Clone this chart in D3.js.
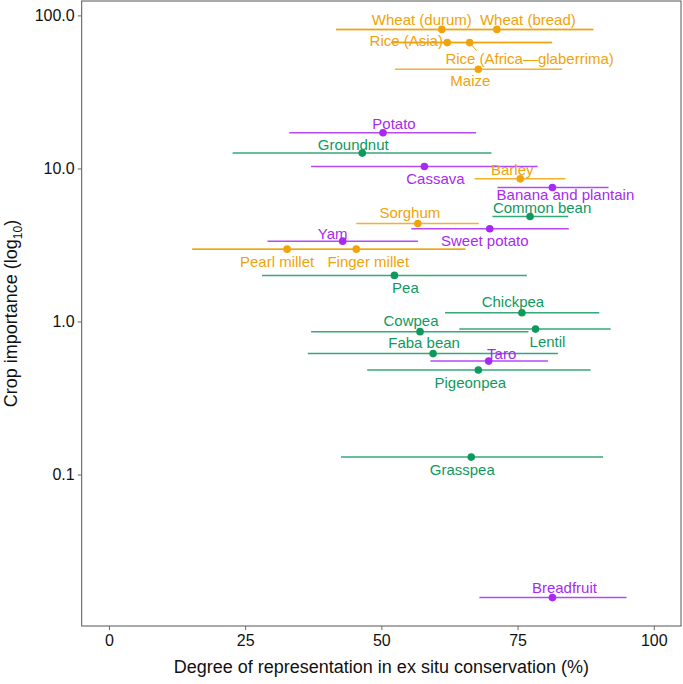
<!DOCTYPE html>
<html><head><meta charset="utf-8">
<script src="https://cdn.jsdelivr.net/npm/d3@7"></script>
<style>body{margin:0;background:#fff}svg{display:block}text{font-family:"Liberation Sans",Arial,sans-serif}</style>
</head><body>
<script>
// ---- data ----
const crops = ["Wheat (durum)","Wheat (bread)","Rice (Asia)","Rice (Africa\u2014glaberrima)","Maize","Potato","Groundnut","Cassava","Barley","Banana and plantain","Common bean","Sorghum","Sweet potato","Yam","Pearl millet","Finger millet","Pea","Chickpea","Cowpea","Lentil","Faba bean","Taro","Pigeonpea","Grasspea","Breadfruit"];
const groups = ["cereal","cereal","cereal","cereal","cereal","root","legume","root","cereal","root","legume","cereal","root","root","cereal","cereal","legume","legume","legume","legume","legume","root","legume","legume","root"];
const importance = [81,81,66.4,66.4,44.5,17.1,12.6,10.3,8.55,7.5,4.85,4.37,4.04,3.35,2.97,2.97,2.0,1.14,0.858,0.892,0.617,0.551,0.482,0.130,0.0157];
const representation = [61.1,71.2,62.1,66.2,67.8,50.3,46.5,57.9,75.5,81.4,77.3,56.7,69.9,42.9,32.7,45.4,52.4,75.8,57.1,78.3,59.5,69.7,67.8,66.5,81.4];
const lower = [41.7,41.7,51.8,51.8,52.5,33.1,22.7,37.1,67.1,71.3,70.4,45.4,55.5,29.1,15.3,15.3,28.1,61.7,37.1,64.3,36.5,59.0,47.4,42.6,68.0];
const upper = [88.9,88.9,81.3,81.3,83.2,67.4,70.2,78.7,83.8,91.7,84.3,67.9,84.4,56.7,65.4,65.4,76.7,90.0,77.0,92.1,82.4,80.6,88.4,90.7,95.0];
const yTicks = [0.1,1,10,100];
const yTickLabels = ["0.1","1.0","10.0","100.0"];
const xTicks = [0,25,50,75,100];

// label placement (repelled offsets from point, px)
const labelOffset = {
 "Wheat (durum)":[-20,-10],"Wheat (bread)":[31,-10],"Rice (Asia)":[-41,-2],"Rice (Africa\u2014glaberrima)":[60,16],
 "Maize":[-8,11.5],"Potato":[11,-9],"Groundnut":[-9,-9],"Cassava":[11,12],"Barley":[-8,-9],
 "Banana and plantain":[13,7],"Common bean":[12,-9],"Sorghum":[-8,-11],"Sweet potato":[-5,12],"Yam":[-10,-8],
 "Pearl millet":[-10,12.5],"Finger millet":[12,12.5],"Pea":[11,12],"Chickpea":[-9,-11.5],"Cowpea":[-9,-11],
 "Lentil":[12,12],"Faba bean":[-9,-11],"Taro":[13,-8],"Pigeonpea":[-8,12.5],"Grasspea":[-9,12.5],"Breadfruit":[12,-10]
};
const colors = {cereal:"#F0A30A", legume:"#10995E", root:"#A82AF2"};

const W=683,H=684;
const svg=d3.select("body").append("svg").attr("width",W).attr("height",H);
const L=81.7,R=681,T=1,B=626;
const x=d3.scaleLinear().domain([-5,105]).range([L,R]);
const lmin=Math.log10(d3.min(importance)), lmax=Math.log10(d3.max(importance));
const pad=(lmax-lmin)*0.05;
const y=d3.scaleLog().domain([Math.pow(10,lmin-pad),Math.pow(10,lmax+pad)]).range([B,T]);

const data=crops.map((c,i)=>({c,g:groups[i],v:importance[i],r:representation[i],lo:lower[i],hi:upper[i]}));

// frame
svg.append("rect").attr("x",L).attr("y",T).attr("width",R-L).attr("height",B-T)
 .attr("fill","none").attr("stroke","#555").attr("stroke-width",1);

// axes
const yAxis=d3.axisLeft(y).tickValues(yTicks).tickFormat((d,i)=>yTickLabels[i]).tickSize(4).tickPadding(3);
const gy=svg.append("g").attr("transform",`translate(${L},0)`).call(yAxis);
gy.select(".domain").remove();
gy.selectAll("line").attr("stroke","#666");
gy.selectAll("text").attr("font-size",16).attr("fill","#111");
const xAxis=d3.axisBottom(x).tickValues(xTicks).tickSize(4).tickPadding(5);
const gx=svg.append("g").attr("transform",`translate(0,${B})`).call(xAxis);
gx.select(".domain").remove();
gx.selectAll("line").attr("stroke","#666");
gx.selectAll("text").attr("font-size",16).attr("fill","#111");

svg.append("text").attr("x",(L+R)/2).attr("y",673).attr("text-anchor","middle")
 .attr("font-size",18).attr("fill","#111").text("Degree of representation in ex situ conservation (%)");
const yt=svg.append("text").attr("transform",`translate(17,${(T+B)/2}) rotate(-90)`).attr("text-anchor","middle")
 .attr("font-size",18).attr("fill","#111");
yt.append("tspan").text("Crop importance (log");
yt.append("tspan").attr("font-size",12).attr("dy",5).text("10");
yt.append("tspan").attr("dy",-5).text(")");

// error bars
svg.append("g").selectAll("line").data(data).join("line")
 .attr("x1",d=>x(d.lo)).attr("x2",d=>x(d.hi)).attr("y1",d=>y(d.v)).attr("y2",d=>y(d.v))
 .attr("stroke",d=>colors[d.g]).attr("stroke-width",1.5).attr("stroke-opacity",0.85);

// leader segment for Rice Africa
const ra=data.find(d=>d.c.startsWith("Rice (Africa"));
svg.append("line").attr("x1",x(ra.r)).attr("y1",y(ra.v)).attr("x2",x(ra.r)+7).attr("y2",y(ra.v)+8)
 .attr("stroke",colors.cereal).attr("stroke-width",1);

// points
svg.append("g").selectAll("circle").data(data).join("circle")
 .attr("cx",d=>x(d.r)).attr("cy",d=>y(d.v)).attr("r",3.8).attr("fill",d=>colors[d.g]);

// labels
svg.append("g").selectAll("text").data(data).join("text")
 .attr("x",d=>x(d.r)+labelOffset[d.c][0]).attr("y",d=>y(d.v)+labelOffset[d.c][1])
 .attr("text-anchor","middle").attr("dominant-baseline","central")
 .attr("font-size",15).attr("fill",d=>colors[d.g]).text(d=>d.c);
</script>
</body></html>
